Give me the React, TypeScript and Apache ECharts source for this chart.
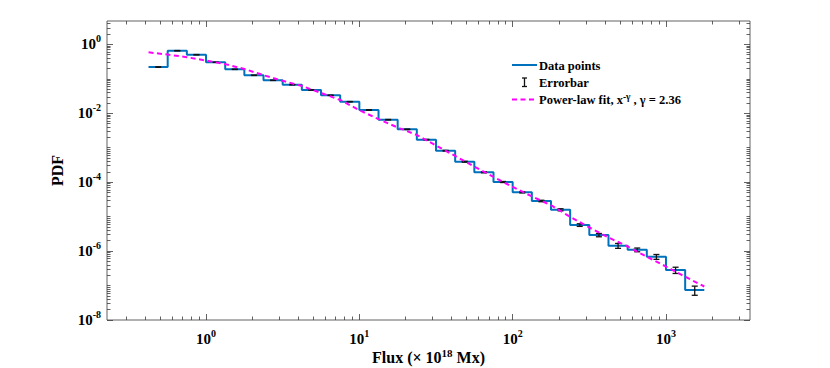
import React, { useEffect, useRef } from 'react';
import * as echarts from 'echarts';

// Histogram bin edges (log-spaced, 8 bins per decade)
const binEdges = [0.4217, 0.5623, 0.7499, 1, 1.334, 1.778, 2.371, 3.162, 4.217, 5.623, 7.499, 10, 13.34, 17.78, 23.71, 31.62, 42.17, 56.23, 74.99, 100, 133.4, 177.8, 237.1, 316.2, 421.7, 562.3, 749.9, 1000, 1334, 1778];
// PDF value of each bin
const pdfValues = [0.219, 0.652, 0.499, 0.301, 0.188, 0.126, 0.0902, 0.0673, 0.0472, 0.0331, 0.0216, 0.0124, 0.00649, 0.00341, 0.00171, 8.17e-4, 3.92e-4, 1.93e-4, 1.01e-4, 5.07e-5, 2.84e-5, 1.58e-5, 5.7e-6, 2.92e-6, 1.43e-6, 1.09e-6, 6.85e-7, 2.82e-7, 7.41e-8];
// Error of each bin
const pdfErrors = [0.0022, 0.0065, 0.005, 0.003, 0.0019, 0.0013, 0.0009, 0.0007, 0.0005, 0.00035, 0.00023, 1.9e-4, 1.0e-4, 6.8e-5, 3.4e-5, 2.0e-5, 1.2e-5, 5.8e-6, 3.5e-6, 2.0e-6, 1.4e-6, 1.1e-6, 5.0e-7, 3.2e-7, 2.3e-7, 1.35e-7, 1.1e-7, 5.8e-8, 2.2e-8];
// Power-law fit curve read at the bin edges
const fitValues = [0.586, 0.502, 0.422, 0.337, 0.266, 0.192, 0.127, 0.087, 0.0617, 0.0386, 0.0242, 0.01225, 0.00675, 0.00385, 0.00233, 0.00116, 5.74e-4, 2.83e-4, 1.42e-4, 7.28e-5, 3.86e-5, 2.14e-5, 9.87e-6, 4.83e-6, 2.48e-6, 1.36e-6, 6.86e-7, 3.56e-7, 1.8e-7, 9.37e-8];

const xMajorTicks = [1, 10, 100, 1000];
const yMajorTicks = [1e-8, 1e-6, 1e-4, 1e-2, 1];
const xRange = [0.226, 3532];
const yRange = [1e-8, 4.74];

function minorTicks(lo: number, hi: number, majors: number[]) {
  const out: number[] = [];
  for (let n = -9; n <= 4; n++) {
    for (let k = 1; k <= 9; k++) {
      const v = parseFloat((k * Math.pow(10, n)).toPrecision(6));
      if (v > lo && v < hi && !majors.some((m) => Math.abs(Math.log10(m) - Math.log10(v)) < 1e-9)) out.push(v);
    }
  }
  return out;
}
const xMinorTicks = minorTicks(xRange[0], xRange[1], xMajorTicks);
const yMinorTicks = minorTicks(yRange[0], yRange[1], yMajorTicks);

const FONT = '"Liberation Serif", "Times New Roman", serif';
const AXIS_COLOR = '#3a3a3a';

const labelRich = {
  b: { fontFamily: FONT, fontWeight: 'bold', fontSize: 15, lineHeight: 21, color: '#000' },
  s: { fontFamily: FONT, fontWeight: 'bold', fontSize: 10, lineHeight: 10, verticalAlign: 'top', color: '#000' },
};
const powLabel = (v: number) => `{b|10}{s|${Math.round(Math.log10(v))}}`;

function makeAxis(kind: 'x' | 'y', position: string, major: boolean) {
  const range = kind === 'x' ? xRange : yRange;
  const ticks = major ? (kind === 'x' ? xMajorTicks : yMajorTicks) : (kind === 'x' ? xMinorTicks : yMinorTicks);
  return {
    type: 'log',
    logBase: 10,
    gridIndex: 0,
    position,
    min: range[0],
    max: range[1],
    axisLine: { show: false },
    splitLine: { show: false },
    minorTick: { show: false },
    axisTick: {
      show: true,
      inside: true,
      length: major ? 6 : 3.5,
      customValues: ticks,
      lineStyle: { color: AXIS_COLOR, width: 0.8 },
    },
    axisLabel: { show: false },
  } as any;
}

const xMain = makeAxis('x', 'bottom', true);
xMain.axisLabel = {
  show: true,
  customValues: xMajorTicks,
  margin: 8,
  formatter: powLabel,
  rich: labelRich,
};
xMain.name = '{b|Flux (× 10}{s|18}{b| Mx)}';
xMain.nameLocation = 'middle';
xMain.nameGap = 27;
xMain.nameMoveOverlap = false;
xMain.nameTextStyle = {
  verticalAlign: 'top',
  rich: {
    b: { fontFamily: FONT, fontWeight: 'bold', fontSize: 16, lineHeight: 20, color: '#000' },
    s: { fontFamily: FONT, fontWeight: 'bold', fontSize: 11, lineHeight: 10, verticalAlign: 'top', color: '#000' },
  },
};

const yMain = makeAxis('y', 'left', true);
yMain.axisLabel = {
  show: true,
  customValues: yMajorTicks,
  margin: 6,
  formatter: powLabel,
  rich: labelRich,
};
yMain.name = 'PDF';
yMain.nameLocation = 'middle';
yMain.nameGap = 42;
yMain.nameMoveOverlap = false;
yMain.nameTextStyle = { fontFamily: FONT, fontWeight: 'bold', fontSize: 16, color: '#000' };

// step line data: edges with bin values, plus final edge
const stepData = binEdges.map((e, i) => [e, pdfValues[Math.min(i, pdfValues.length - 1)]]);
const errData = pdfValues.map((v, i) => [Math.sqrt(binEdges[i] * binEdges[i + 1]), v, pdfErrors[i]]);
const fitData = binEdges.map((e, i) => [e, fitValues[i]]);

const legendText = { fontFamily: FONT, fontWeight: 'bold', fontSize: 12.5, fill: '#000', verticalAlign: 'middle' };

const option: any = {
  animation: false,
  backgroundColor: '#fff',
  grid: {
    left: 107, top: 21, width: 643, height: 299,
    containLabel: false, outerBoundsMode: 'none',
    show: true, borderColor: AXIS_COLOR, borderWidth: 0.8, backgroundColor: 'transparent',
  },
  xAxis: [xMain, makeAxis('x', 'bottom', false), makeAxis('x', 'top', true), makeAxis('x', 'top', false)],
  yAxis: [yMain, makeAxis('y', 'left', false), makeAxis('y', 'right', true), makeAxis('y', 'right', false)],
  series: [
    {
      name: 'Data points',
      type: 'line',
      step: 'end',
      data: stepData,
      showSymbol: false,
      lineStyle: { color: '#0072BD', width: 2 },
      z: 2,
    },
    {
      name: 'Errorbar',
      type: 'custom',
      data: errData,
      encode: { x: 0, y: 1 },
      z: 3,
      renderItem: (params: any, api: any) => {
        const x = api.value(0);
        const y = api.value(1);
        const e = api.value(2);
        const top = api.coord([x, y + e]);
        const bot = api.coord([x, y - e]);
        const hw = 3;
        const style = { stroke: '#111', lineWidth: 1.3 };
        return {
          type: 'group',
          children: [
            { type: 'line', shape: { x1: top[0], y1: top[1], x2: bot[0], y2: bot[1] }, style },
            { type: 'line', shape: { x1: top[0] - hw, y1: top[1], x2: top[0] + hw, y2: top[1] }, style },
            { type: 'line', shape: { x1: bot[0] - hw, y1: bot[1], x2: bot[0] + hw, y2: bot[1] }, style },
          ],
        };
      },
    },
    {
      name: 'Power-law fit',
      type: 'line',
      data: fitData,
      showSymbol: false,
      lineStyle: { color: '#FF00FF', width: 2, type: [5, 3.5] },
      z: 4,
    },
  ],
  graphic: [
    { type: 'line', shape: { x1: 512, y1: 65, x2: 537, y2: 65 }, style: { stroke: '#0072BD', lineWidth: 2 } },
    { type: 'text', x: 539, y: 65.5, style: { ...legendText, text: 'Data points' } },
    { type: 'line', shape: { x1: 524.5, y1: 78, x2: 524.5, y2: 86.5 }, style: { stroke: '#111', lineWidth: 1.3 } },
    { type: 'line', shape: { x1: 522, y1: 78, x2: 527, y2: 78 }, style: { stroke: '#111', lineWidth: 1.3 } },
    { type: 'line', shape: { x1: 522, y1: 86.5, x2: 527, y2: 86.5 }, style: { stroke: '#111', lineWidth: 1.3 } },
    { type: 'text', x: 539, y: 82.5, style: { ...legendText, text: 'Errorbar' } },
    { type: 'line', shape: { x1: 512, y1: 99.5, x2: 537, y2: 99.5 }, style: { stroke: '#FF00FF', lineWidth: 2, lineDash: [5, 3.5] } },
    {
      type: 'text',
      x: 539,
      y: 100,
      style: {
        ...legendText,
        text: '{b|Power-law fit, x}{s|-γ}{b| , γ = 2.36}',
        rich: {
          b: { fontFamily: FONT, fontWeight: 'bold', fontSize: 12.5, lineHeight: 16, fill: '#000' },
          s: { fontFamily: FONT, fontWeight: 'bold', fontSize: 9.5, lineHeight: 8, verticalAlign: 'top', fill: '#000' },
        },
      },
    },
  ],
};

export default function App() {
  const ref = useRef<HTMLDivElement>(null);
  useEffect(() => {
    const chart = echarts.init(ref.current!, null, { renderer: 'svg' });
    chart.setOption(option);
    return () => chart.dispose();
  }, []);
  return <div ref={ref} style={{ position: 'absolute', left: 0, top: 0, width: 830, height: 368, background: '#fff' }} />;
}
